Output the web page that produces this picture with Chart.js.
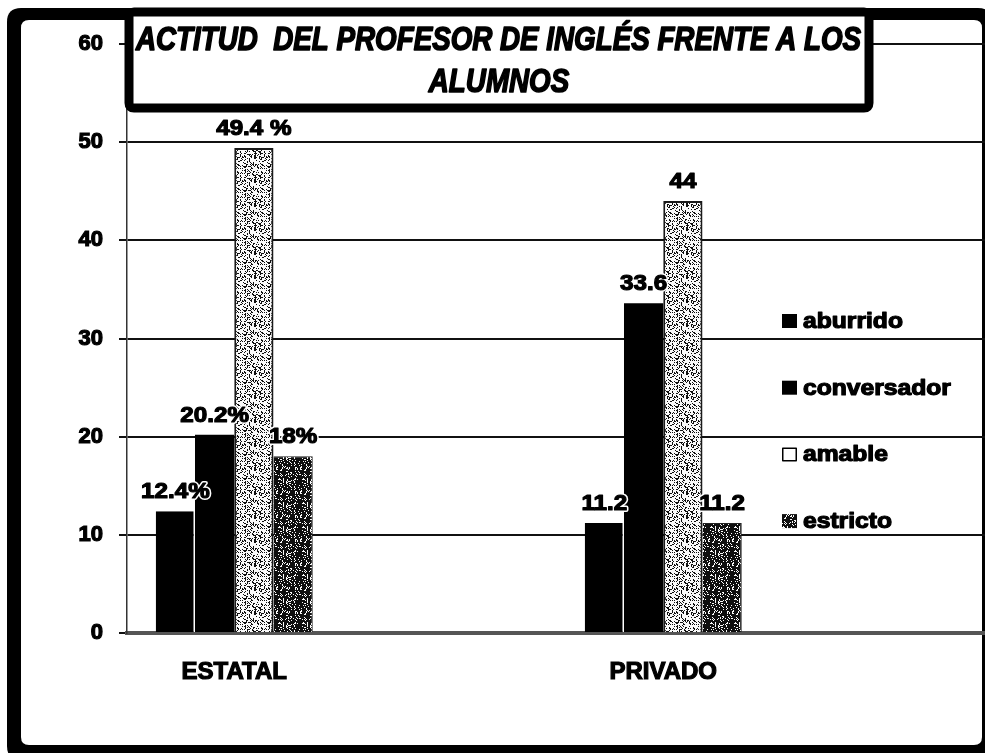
<!DOCTYPE html>
<html>
<head>
<meta charset="utf-8">
<script src="https://cdn.jsdelivr.net/npm/chart.js@4.4.1/dist/chart.umd.min.js"></script>
<style>
html,body{margin:0;padding:0;background:#fff;overflow:hidden}
#wrap{width:985px;height:753px;position:relative}
</style>
</head>
<body>
<div id="wrap"><canvas id="c" width="985" height="753"></canvas></div>
<script>
// ---- data ----
const categories = ['ESTATAL', 'PRIVADO'];
const seriesNames = ['aburrido', 'conversador', 'amable', 'estricto'];
const aburrido    = [12.4, 11.2];
const conversador = [20.2, 33.6];
const amable      = [49.4, 44];
const estricto    = [18, 11.2];
const aburridoLabels    = ['12.4%', '11.2'];
const conversadorLabels = ['20.2%', '33.6'];
const amableLabels      = ['49.4 %', '44'];
const estrictoLabels    = ['18%', '11.2'];
const yTickValues = [0, 10, 20, 30, 40, 50, 60];
const titleLines = ['ACTITUD  DEL PROFESOR DE INGLÉS FRENTE A LOS', 'ALUMNOS'];

// ---- build library tables ----
// each category is followed by an empty slot, reproducing the wide spacing of the original
const axisLabels = [];
categories.forEach(c => { axisLabels.push(c); axisLabels.push(''); });
function spread(arr) { const out = []; arr.forEach(v => { out.push(v); out.push(null); }); return out; }
const seriesValues = [aburrido, conversador, amable, estricto];
const seriesLabels = [aburridoLabels, conversadorLabels, amableLabels, estrictoLabels];

// ---- textures (deterministic hash dither, styling only) ----
function hash(x, y) {
  let h = (x * 374761393 + y * 668265263) >>> 0;
  h = Math.imul(h ^ (h >>> 13), 1274126177) >>> 0;
  h = (h ^ (h >>> 16)) >>> 0;
  return h % 100;
}
function makePattern(darkPct) {
  const pc = document.createElement('canvas');
  pc.width = 24; pc.height = 24;
  const g = pc.getContext('2d');
  const img = g.createImageData(24, 24);
  for (let y = 0; y < 24; y++) for (let x = 0; x < 24; x++) {
    const v = hash(x, y) < darkPct ? 15 : 250;
    const i = (y * 24 + x) * 4;
    img.data[i] = img.data[i + 1] = img.data[i + 2] = v; img.data[i + 3] = 255;
  }
  g.putImageData(img, 0, 0);
  return g.createPattern(pc, 'repeat');
}
const amablePattern = makePattern(28);
const estrictoPattern = makePattern(80);

const fills = ['#000000', '#000000', amablePattern, estrictoPattern];
const borders = ['#ffffff', '#ffffff', '#1a1a1a', '#222222'];
const borderWidths = [{left: 0, right: 1.5, top: 0, bottom: 0}, {left: 0, right: 0, top: 0, bottom: 0}, {left: 2, right: 2, top: 2, bottom: 0}, {left: 0, right: 1, top: 1, bottom: 0}];

const FONT = '"Liberation Sans", Arial, Helvetica, sans-serif';

// ---- plugins ----
function rr(ctx, x, y, w, h, r) {
  ctx.beginPath();
  ctx.moveTo(x + r, y);
  ctx.lineTo(x + w - r, y); ctx.quadraticCurveTo(x + w, y, x + w, y + r);
  ctx.lineTo(x + w, y + h - r); ctx.quadraticCurveTo(x + w, y + h, x + w - r, y + h);
  ctx.lineTo(x + r, y + h); ctx.quadraticCurveTo(x, y + h, x, y + h - r);
  ctx.lineTo(x, y + r); ctx.quadraticCurveTo(x, y, x + r, y);
  ctx.closePath();
}
const framePlugin = {
  id: 'frame',
  beforeDraw(chart) {
    const ctx = chart.ctx;
    ctx.save();
    ctx.fillStyle = '#fff'; ctx.fillRect(0, 0, chart.width, chart.height);
    ctx.fillStyle = '#000'; rr(ctx, 7, 8, 985, 752, 14); ctx.fill();
    ctx.fillStyle = '#fff'; rr(ctx, 21, 20, 961, 725, 8); ctx.fill();
    ctx.restore();
  }
};
function stretchedText(ctx, text, x, y, sx, strokeW, halo) {
  ctx.save(); ctx.translate(x, y); ctx.scale(sx, 1);
  if (halo) { ctx.strokeStyle = '#fff'; ctx.lineWidth = halo; ctx.lineJoin = 'round'; ctx.strokeText(text, 0, 0); }
  if (strokeW) { ctx.strokeStyle = '#000'; ctx.lineWidth = strokeW; ctx.lineJoin = 'round'; ctx.strokeText(text, 0, 0); }
  ctx.fillStyle = '#000';
  ctx.fillText(text, 0, 0); ctx.restore();
}
const overlayPlugin = {
  id: 'overlay',
  afterDraw(chart) {
    const ctx = chart.ctx;
    ctx.save();
    // title box
    ctx.fillStyle = '#fff';
    ctx.fillRect(129, 14, 740, 94);
    ctx.strokeStyle = '#000'; ctx.lineWidth = 9; ctx.lineJoin = 'round';
    rr(ctx, 129, 12, 740, 96, 5); ctx.stroke();
    ctx.font = 'italic bold 33px "Liberation Sans Narrow", "Liberation Sans", sans-serif';
    ctx.textBaseline = 'alphabetic'; ctx.textAlign = 'left';
    const w1 = ctx.measureText(titleLines[0]).width;
    const sx = 725 / w1;
    stretchedText(ctx, titleLines[0], 136, 50, sx, 1.6);
    ctx.textAlign = 'center';
    stretchedText(ctx, titleLines[1], 499, 92, sx, 1.6);

    // value labels
    ctx.font = 'bold 22px ' + FONT;
    ctx.textAlign = 'center'; ctx.textBaseline = 'alphabetic';
    chart.data.datasets.forEach((ds, i) => {
      const meta = chart.getDatasetMeta(i);
      categories.forEach((c, j) => {
        const idx = axisLabels.indexOf(c);
        const el = meta.data[idx];
        if (!el) return;
        stretchedText(ctx, seriesLabels[i][j], el.x, el.y - 13, 1.1, 1.2, 4);
      });
    });

    // legend
    const lx = 782, ty = 321, step = 66.7;
    ctx.font = 'bold 22px ' + FONT;
    ctx.textAlign = 'left'; ctx.textBaseline = 'middle';
    seriesNames.forEach((name, i) => {
      const cy = ty + i * step;
      ctx.fillStyle = i === 2 ? '#fff' : fills[i];
      ctx.fillRect(lx, cy - 7, 15, 14);
      if (i === 2) { ctx.strokeStyle = '#000'; ctx.lineWidth = 1.5; ctx.strokeRect(lx + 0.75, cy - 6.25, 13.5, 12.5); }
      stretchedText(ctx, name, 803, cy + 1, 1.12, 1.2);
    });
    ctx.restore();
  }
};

const datasets = seriesNames.map((name, i) => ({
  label: name,
  data: spread(seriesValues[i]),
  backgroundColor: fills[i],
  borderColor: borders[i],
  borderWidth: borderWidths[i],
  borderSkipped: false,
  categoryPercentage: 0.732,
  barPercentage: 1.0
}));

const yTickFont = { family: FONT, weight: 'bold', size: 22 };
const xTickFont = { family: FONT, weight: 'bold', size: 24 };

new Chart(document.getElementById('c'), {
  type: 'bar',
  data: { labels: axisLabels, datasets },
  options: {
    responsive: false,
    animation: false,
    devicePixelRatio: 1,
    layout: { padding: { left: 0, right: 0, top: 44, bottom: 0 } },
    plugins: { legend: { display: false }, title: { display: false }, tooltip: { enabled: false } },
    scales: {
      x: {
        grid: { display: false, drawTicks: false },
        border: { display: true, color: '#555', width: 4 },
        ticks: { color: '#000', font: xTickFont, padding: 25, autoSkip: false, maxRotation: 0, textStrokeColor: '#000', textStrokeWidth: 1.2 },
        afterFit(s) { s.height = 120; }
      },
      y: {
        min: yTickValues[0],
        max: yTickValues[yTickValues.length - 1],
        afterBuildTicks(s) { s.ticks = yTickValues.map(v => ({ value: v })); },
        ticks: { color: '#000', font: yTickFont, padding: 16, textStrokeColor: '#000', textStrokeWidth: 1.2 },
        grid: { color: '#111', lineWidth: 2, tickLength: 8, drawTicks: true },
        border: { display: true, color: '#333', width: 1.5 },
        afterFit(s) { s.width = 127; }
      }
    }
  },
  plugins: [framePlugin, overlayPlugin]
});
</script>
</body>
</html>
